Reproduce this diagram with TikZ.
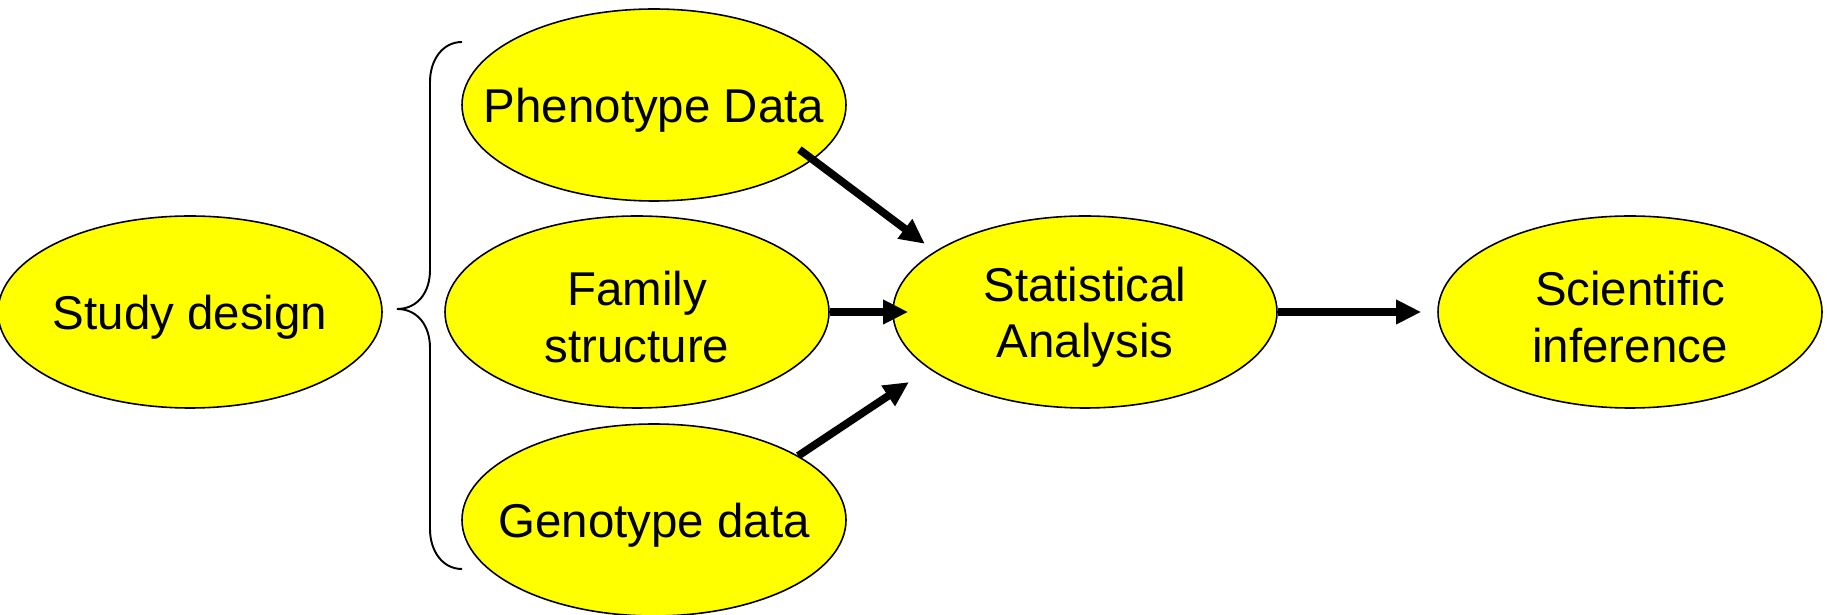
\documentclass[tikz,border=0pt]{standalone}
\usepackage{fontspec}
\setmainfont{Liberation Sans}
\usetikzlibrary{shapes.geometric, arrows.meta}

\definecolor{blobfill}{RGB}{255,255,0}

\tikzset{
    blob/.style={ellipse, draw, line width=0.9pt, fill=blobfill,
        minimum width=7.68cm, minimum height=3.84cm, inner sep=0pt},
    txt/.style={align=center, yshift=-0.1cm, font=\fontsize{27}{32}\selectfont},
    arr/.style={line width=4.4pt, -{Triangle[length=0.5cm, width=0.46cm]}}
}

\begin{document}
\begin{tikzpicture}
    \useasboundingbox (0, 0) rectangle (36.54, 12.3);

    \node [blob, label={[txt]center:Study design}] (study) at (3.8, 6.06) {};
    \node [blob, label={[txt]center:Phenotype Data}] (pheno) at (13.08, 10.2) {};
    \node [blob, label={[txt]center:Family\\structure}] (family) at (12.74, 6.06) {};
    \node [blob, label={[txt]center:Genotype data}] (geno) at (13.08, 1.9) {};
    \node [blob, label={[txt]center:Statistical\\Analysis}] (stat) at (21.7, 6.06) {};
    \node [blob, label={[txt]center:Scientific\\inference}] (sci) at (32.6, 6.06) {};

    % brace from study design to the three data sources
    \draw [line width=1.1pt] (9.24, 11.46) .. controls (8.85, 11.46) and (8.6, 11.1) .. (8.6, 10.66)
        -- (8.6, 6.9) .. controls (8.6, 6.45) and (8.35, 6.12) .. (7.94, 6.12)
        .. controls (8.35, 6.12) and (8.6, 5.79) .. (8.6, 5.34)
        -- (8.6, 1.72) .. controls (8.6, 1.28) and (8.85, 0.92) .. (9.24, 0.92);

    \draw [arr, shorten <=-0.34cm, shorten >=0.25cm] (pheno.-19) -- (stat.158);
    \draw [arr, shorten >=-0.32cm] (family.east) -- (stat.west);
    \draw [arr, shorten >=0.48cm] (geno.24) -- (stat.200);
    \draw [arr, shorten >=0.32cm] (stat.east) -- (sci.west);
\end{tikzpicture}
\end{document}
